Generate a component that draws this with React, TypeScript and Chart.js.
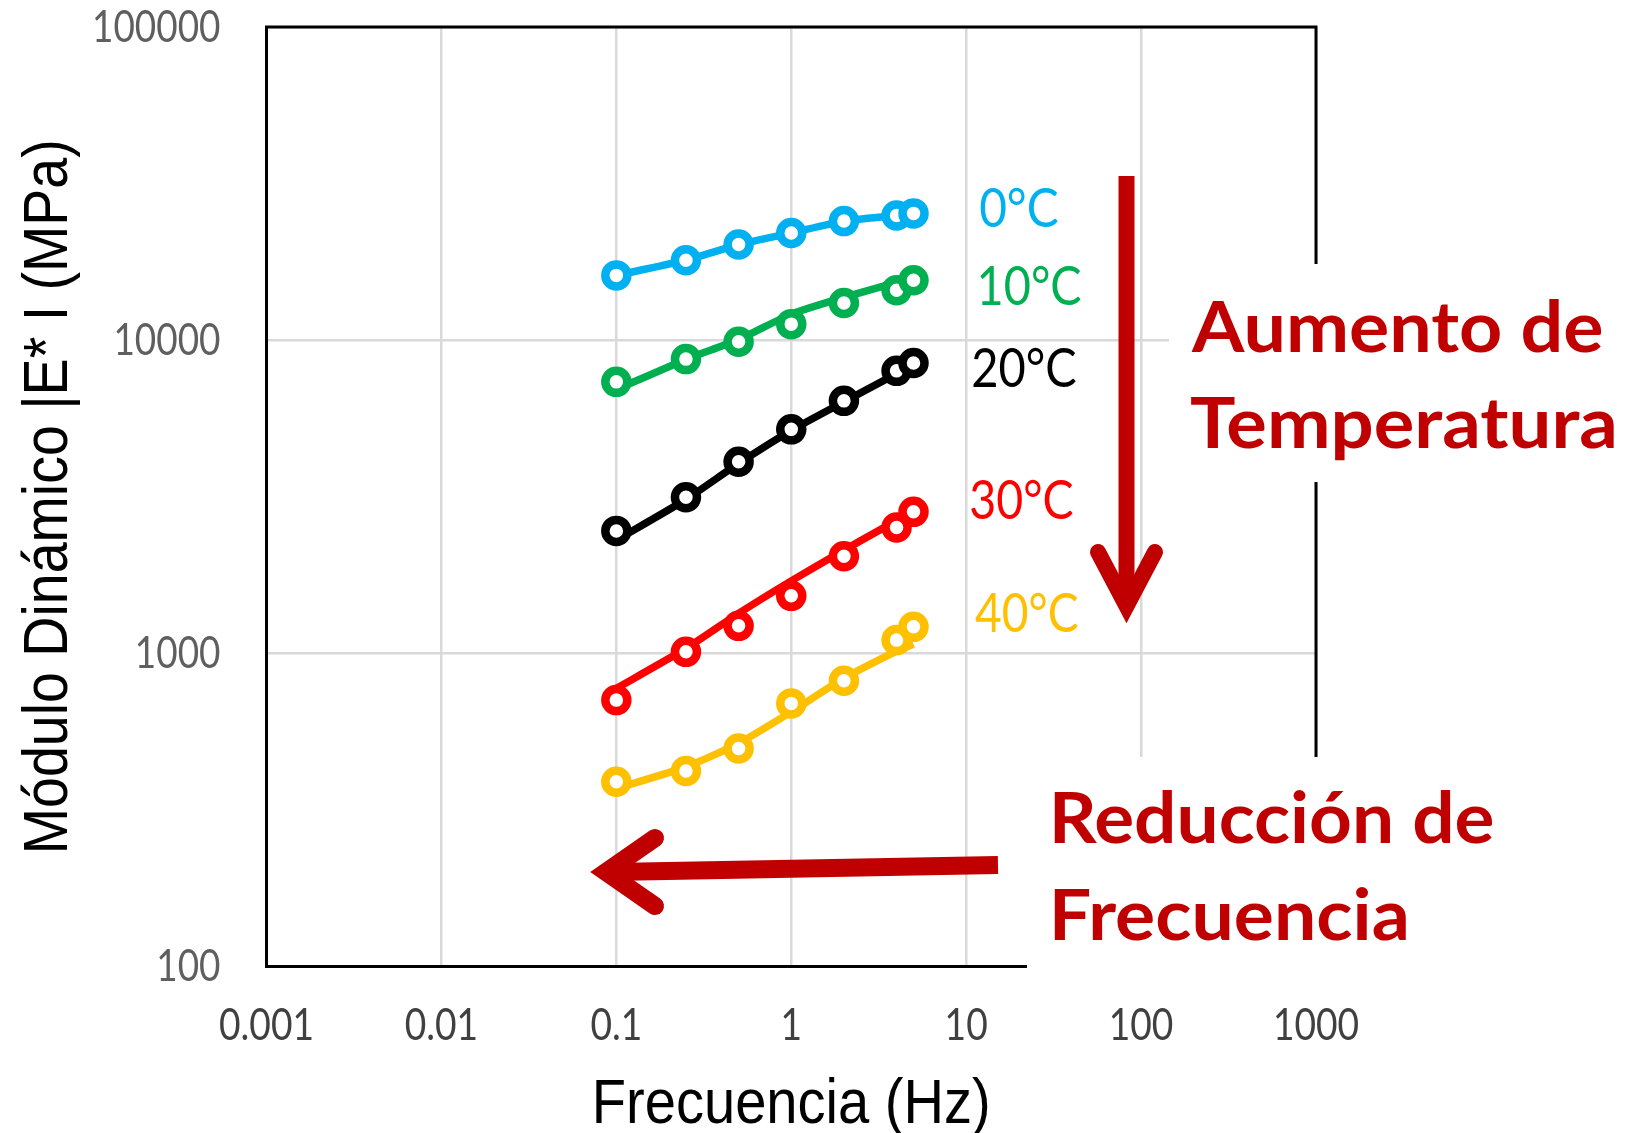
import { useEffect, useRef } from 'react';
import { Chart, registerables } from 'chart.js';

Chart.register(...registerables);

// ---- data ----
const FREQ = [0.1, 0.25, 0.5, 1, 2, 4, 5];
const SERIES_LABELS = ['0°C', '10°C', '20°C', '30°C', '40°C'];
const SERIES_COLORS = ['#00B0F0', '#00B050', '#000000', '#FF0000', '#FFC000'];
const T0_PTS = [16100, 18000, 20200, 22000, 24000, 25000, 25400];
const T0_FIT = [16100, 18000, 20200, 22000, 24000, 25000, 25400];
const T10_PTS = [7360, 8700, 9880, 11250, 13150, 14440, 15540];
const T10_FIT = [6960, 8680, 10050, 12110, 13690, 15300, 15920];
const T20_PTS = [2460, 3150, 4090, 5190, 6400, 7980, 8460];
const T20_FIT = [2300, 3100, 4040, 5150, 6350, 7800, 8200];
const T30_PTS = [709, 1011, 1224, 1526, 2043, 2523, 2830];
const T30_FIT = [773, 1036, 1341, 1704, 2135, 2649, 2797];
const T40_PTS = [389, 421, 497, 692, 817, 1102, 1215];
const T40_FIT = [370, 434, 516, 650, 832, 1016, 1070];
const PTS = [T0_PTS, T10_PTS, T20_PTS, T30_PTS, T40_PTS];
const FITS = [T0_FIT, T10_FIT, T20_FIT, T30_FIT, T40_FIT];

const X_TICKS = [0.001, 0.01, 0.1, 1, 10, 100, 1000];
const X_TICK_LABELS = ['0.001', '0.01', '0.1', '1', '10', '100', '1000'];
const Y_TICKS = [100, 1000, 10000, 100000];
const Y_TICK_LABELS = ['100', '1000', '10000', '100000'];

const X_TITLE = 'Frecuencia (Hz)';
const Y_TITLE = 'Módulo Dinámico |E* I (MPa)';
const NOTE_TEMP = ['Aumento de', 'Temperatura'];
const NOTE_FREQ = ['Reducción de', 'Frecuencia'];

const DARK_RED = '#C00000';
const TICK_FAMILY = 'Lato, "Open Sans", sans-serif';
const TICK_WEIGHT = 'normal';
const TITLE_FAMILY = '"Liberation Sans", Arial, sans-serif';
const TITLE_WEIGHT = 'normal';

type Fitted = { size: number; k: number; key: string };

const measCtx = () => document.createElement('canvas').getContext('2d') as CanvasRenderingContext2D;

// choose font size from a glyph height and a horizontal squeeze factor from a target ink width
function fitFont(weight: string, family: string, glyph: string, glyphH: number, text: string, inkW: number): Fitted {
  const c = measCtx();
  c.textBaseline = 'alphabetic';
  c.font = `${weight} 100px ${family}`;
  const g = c.measureText(glyph);
  const h100 = g.actualBoundingBoxAscent + g.actualBoundingBoxDescent;
  const size = Math.round(((100 * glyphH) / h100) * 100) / 100;
  c.font = `${weight} ${size}px ${family}`;
  const m = c.measureText(text);
  const w = m.actualBoundingBoxLeft + m.actualBoundingBoxRight;
  const key = c.font;
  return { size, k: inkW / w, key };
}

function midAscent(weight: string, family: string, size: number, glyph: string): number {
  const c = measCtx();
  c.textBaseline = 'middle';
  c.font = `${weight} ${size}px ${family}`;
  return c.measureText(glyph).actualBoundingBoxAscent;
}

function fitText(ctx: CanvasRenderingContext2D, text: string, x: number, y: number, width: number, font: string, color: string) {
  ctx.save();
  ctx.font = font;
  ctx.fillStyle = color;
  ctx.textAlign = 'left';
  ctx.textBaseline = 'alphabetic';
  const m = ctx.measureText(text);
  const w = m.actualBoundingBoxLeft + m.actualBoundingBoxRight;
  ctx.translate(x, y);
  ctx.scale(width / w, 1);
  ctx.fillText(text, m.actualBoundingBoxLeft, 0);
  ctx.restore();
}

function makePlugins(squeeze: Fitted[]) {
  const squeezeText = {
    id: 'squeezeText',
    beforeDraw(chart: any) {
      const ctx = chart.ctx;
      const orig = CanvasRenderingContext2D.prototype.fillText;
      ctx.fillText = function (text: string, x: number, y: number, maxWidth?: number) {
        const f = squeeze.find((s) => s.key === ctx.font);
        if (!f) return orig.call(ctx, text, x, y, maxWidth as any);
        ctx.save();
        ctx.translate(x, y);
        ctx.scale(f.k, 1);
        orig.call(ctx, text, 0, 0);
        ctx.restore();
      };
    },
    afterDatasetsDraw(chart: any) {
      delete chart.ctx.fillText;
    },
  };

  const annotations = {
    id: 'annotations',
    afterDraw(chart: any) {
      const ctx: CanvasRenderingContext2D = chart.ctx;
      delete (ctx as any).fillText;
      const { left, right, top, bottom } = chart.chartArea;
      ctx.save();
      // top and right frame
      ctx.strokeStyle = '#000';
      ctx.lineWidth = 3;
      ctx.beginPath();
      ctx.moveTo(left - 1.5, top);
      ctx.lineTo(right, top);
      ctx.lineTo(right, bottom + 1.5);
      ctx.stroke();

      // white boxes behind the notes
      ctx.fillStyle = '#ffffff';
      ctx.fillRect(1169, 264, 457, 218);
      ctx.fillRect(1027, 757, 599, 243);

      // down arrow
      ctx.strokeStyle = DARK_RED;
      ctx.lineWidth = 16;
      ctx.lineCap = 'butt';
      ctx.beginPath();
      ctx.moveTo(1126.5, 176);
      ctx.lineTo(1126.5, 600);
      ctx.stroke();
      ctx.lineCap = 'round';
      ctx.lineJoin = 'miter';
      ctx.beginPath();
      ctx.moveTo(1098, 552);
      ctx.lineTo(1126.5, 606);
      ctx.lineTo(1155, 552);
      ctx.stroke();

      // left arrow
      ctx.lineWidth = 18;
      ctx.lineCap = 'butt';
      ctx.beginPath();
      ctx.moveTo(998, 865);
      ctx.lineTo(612, 872);
      ctx.stroke();
      ctx.lineCap = 'round';
      ctx.beginPath();
      ctx.moveTo(655, 838);
      ctx.lineTo(606, 872);
      ctx.lineTo(655, 906);
      ctx.stroke();
      ctx.restore();

      // series labels
      const labelPos = [
        [980, 227, 78],
        [980, 305, 101],
        [973, 387, 103],
        [971, 519, 102],
        [975, 632, 103],
      ];
      SERIES_LABELS.forEach((t, i) => {
        const [x, y, w] = labelPos[i];
        fitText(ctx, t, x, y, w, '55px Lato, "Open Sans", sans-serif', SERIES_COLORS[i]);
      });

      // notes
      const boldFont = 'bold 70px Lato, "Open Sans", sans-serif';
      fitText(ctx, NOTE_TEMP[0], 1191, 352, 411, boldFont, DARK_RED);
      fitText(ctx, NOTE_TEMP[1], 1191, 448, 423, boldFont, DARK_RED);
      fitText(ctx, NOTE_FREQ[0], 1054, 843, 439, boldFont, DARK_RED);
      fitText(ctx, NOTE_FREQ[1], 1054, 940, 352, boldFont, DARK_RED);
    },
  };
  return [squeezeText, annotations];
}

export default function App() {
  const ref = useRef<HTMLCanvasElement | null>(null);

  useEffect(() => {
    if (!ref.current) return;
    const AREA_BOTTOM = 966.5;
    const xTick = fitFont(TICK_WEIGHT, TICK_FAMILY, '0', 33, '0.001', 92);
    const yTick = fitFont(TICK_WEIGHT, TICK_FAMILY, '0', 34, '100000', 125);
    const xTitle = fitFont(TITLE_WEIGHT, TITLE_FAMILY, 'F', 43, X_TITLE, 391);
    const yTitle = fitFont(TITLE_WEIGHT, TITLE_FAMILY, 'M', 43.2, Y_TITLE, 707);
    const xTickPad = 1008 + midAscent(TICK_WEIGHT, TICK_FAMILY, xTick.size, '0') - AREA_BOTTOM - (xTick.size * 1.2) / 2;
    const xTitlePad = 1133 - xTitle.size / 2 - 1080 - midAscent(TITLE_WEIGHT, TITLE_FAMILY, xTitle.size, 'F');
    const yTitlePad = 23.5 + midAscent(TITLE_WEIGHT, TITLE_FAMILY, yTitle.size, 'M') - yTitle.size / 2;

    const datasets: any[] = [];
    SERIES_LABELS.forEach((label, i) => {
      datasets.push({
        label: label + ' puntos',
        data: FREQ.map((f, j) => ({ x: f, y: PTS[i][j] })),
        showLine: false,
        pointRadius: 11,
        pointHoverRadius: 11,
        pointBorderWidth: 8.5,
        pointBackgroundColor: '#ffffff',
        pointBorderColor: SERIES_COLORS[i],
        borderColor: SERIES_COLORS[i],
        order: 0,
      });
      datasets.push({
        label: label + ' ajuste',
        data: FREQ.map((f, j) => ({ x: f, y: FITS[i][j] })),
        showLine: true,
        pointRadius: 0,
        borderWidth: 7.5,
        borderColor: SERIES_COLORS[i],
        tension: 0.2,
        fill: false,
        order: 1,
      });
    });

    const chart = new Chart(ref.current, {
      type: 'line',
      data: { datasets },
      options: {
        animation: false,
        responsive: false,
        devicePixelRatio: 1,
        layout: { padding: { top: 27, right: 310, left: 0, bottom: 0 } },
        plugins: { legend: { display: false }, tooltip: { enabled: false } },
        scales: {
          x: {
            type: 'logarithmic',
            position: 'bottom',
            min: 0.001,
            max: 1000,
            afterBuildTicks: (s: any) => {
              s.ticks = X_TICKS.map((v) => ({ value: v }));
            },
            afterFit: (s: any) => {
              s.height = 1133 - AREA_BOTTOM;
              s.paddingLeft = 0;
              s.paddingRight = 0;
            },
            ticks: {
              autoSkip: false,
              maxRotation: 0,
              padding: xTickPad,
              color: '#404040',
              font: { family: TICK_FAMILY, size: xTick.size, weight: TICK_WEIGHT, lineHeight: 1.2 } as any,
              callback: (_v: any, i: number) => X_TICK_LABELS[i],
            },
            grid: { color: '#D9D9D9', lineWidth: 2.5, drawTicks: false },
            border: { display: true, color: '#000', width: 3 },
            title: {
              display: true,
              text: X_TITLE,
              color: '#000',
              font: { family: TITLE_FAMILY, size: xTitle.size, lineHeight: 1, weight: TITLE_WEIGHT } as any,
              padding: { top: 0, bottom: xTitlePad },
            },
          },
          y: {
            type: 'logarithmic',
            position: 'left',
            min: 100,
            max: 100000,
            afterBuildTicks: (s: any) => {
              s.ticks = Y_TICKS.map((v) => ({ value: v }));
            },
            afterFit: (s: any) => {
              s.width = 266.5;
              s.paddingTop = 0;
              s.paddingBottom = 0;
            },
            ticks: {
              autoSkip: false,
              padding: 46,
              color: '#5f5f5f',
              font: { family: TICK_FAMILY, size: yTick.size, weight: TICK_WEIGHT, lineHeight: 1.2 } as any,
              callback: (_v: any, i: number) => Y_TICK_LABELS[i],
            },
            grid: { color: '#D9D9D9', lineWidth: 2.5, drawTicks: false },
            border: { display: true, color: '#000', width: 3 },
            title: {
              display: true,
              text: Y_TITLE,
              color: '#000',
              font: { family: TITLE_FAMILY, size: yTitle.size, lineHeight: 1, weight: TITLE_WEIGHT } as any,
              padding: { top: yTitlePad, bottom: 0 },
            },
          },
        },
      },
      plugins: makePlugins([xTick, yTick, xTitle, yTitle]),
    });
    return () => chart.destroy();
  }, []);

  return (
    <div style={{ position: 'absolute', left: 0, top: 0, width: 1626, height: 1133, background: '#fff' }}>
      <canvas ref={ref} width={1626} height={1133} style={{ width: 1626, height: 1133, display: 'block' }} />
    </div>
  );
}
